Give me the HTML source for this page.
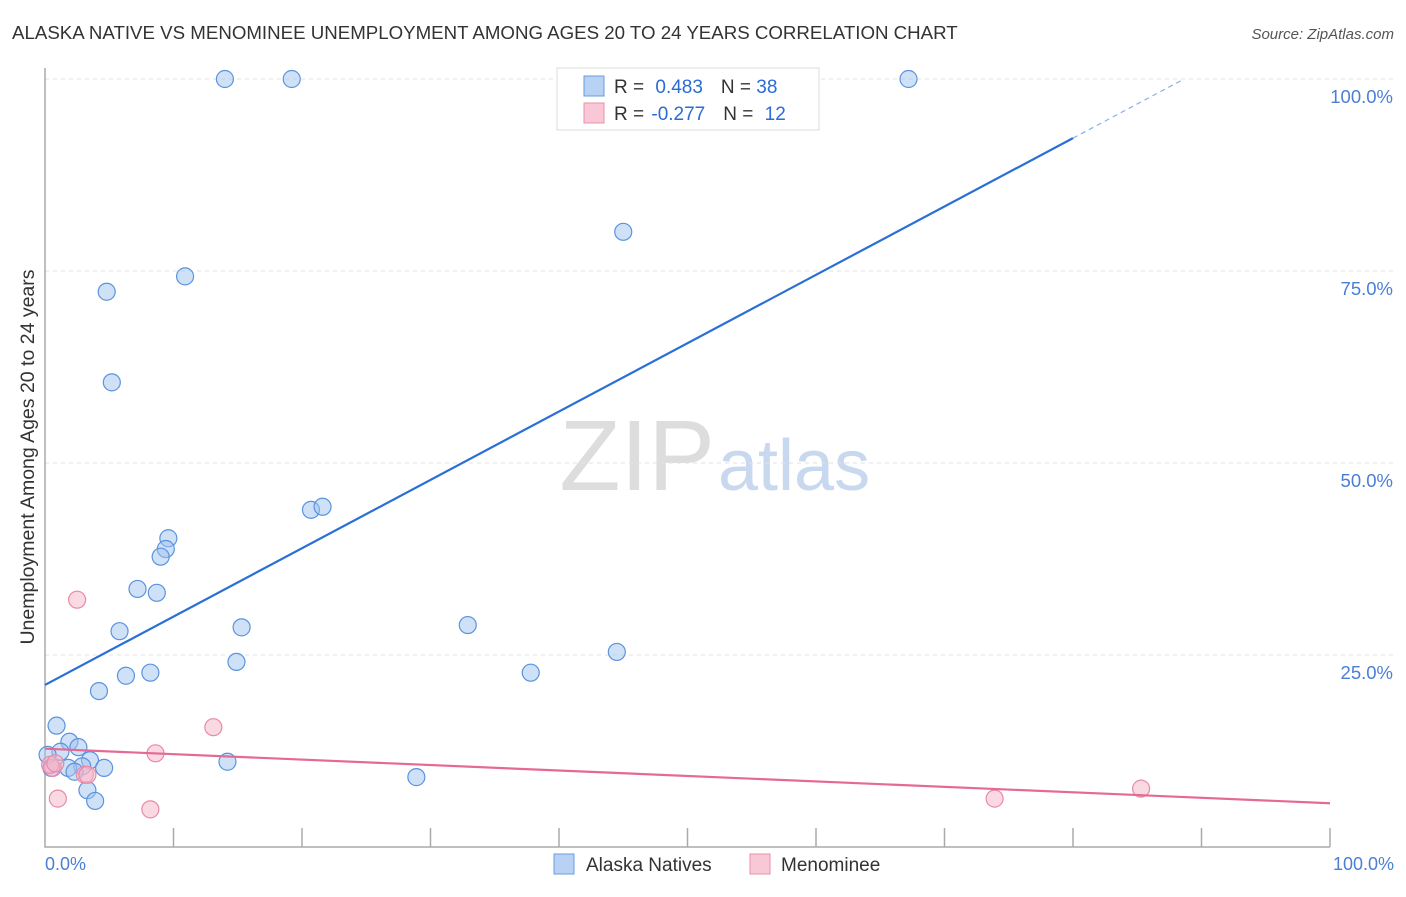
<!DOCTYPE html>
<html><head><meta charset="utf-8"><style>
body{margin:0;background:#fff;font-family:"Liberation Sans",sans-serif;}
svg text{font-family:"Liberation Sans",sans-serif;}
</style></head><body>
<svg width="1406" height="892">
<text x="12" y="39" font-size="18.7" fill="#333">ALASKA NATIVE VS MENOMINEE UNEMPLOYMENT AMONG AGES 20 TO 24 YEARS CORRELATION CHART</text>
<text x="1394" y="39" font-size="15" fill="#555" font-style="italic" text-anchor="end">Source: ZipAtlas.com</text>
<text x="715" y="490" font-size="100" fill="#ddd" text-anchor="end" font-family="Liberation Serif">ZIP</text>
<text x="718" y="490" font-size="72" fill="#c8d8ee">atlas</text>
<g id="grid"></g>
<g id="axes"></g>
<g id="marks"></g>
<text transform="translate(34,457) rotate(-90)" font-size="19.5" fill="#333" text-anchor="middle">Unemployment Among Ages 20 to 24 years</text>
<text x="45" y="870" font-size="18" fill="#4a7fd4">0.0%</text>
<text x="1394" y="870" font-size="18" fill="#4a7fd4" text-anchor="end">100.0%</text>
<g>
<rect x="557" y="68" width="262" height="62" fill="#fff" stroke="#ddd"/>
<rect x="584" y="76" width="20" height="20" fill="#b8d2f4" stroke="#6a9ae0"/>
<rect x="584" y="103" width="20" height="20" fill="#f9c8d6" stroke="#e890aa"/>
<text x="614" y="93" font-size="19" fill="#333">R = <tspan fill="#2a6bd4" dx="6">0.483</tspan><tspan dx="18" fill="#333">N = </tspan><tspan fill="#2a6bd4">38</tspan></text>
<text x="614" y="120" font-size="19" fill="#333">R = <tspan fill="#2a6bd4" dx="2">-0.277</tspan><tspan dx="18" fill="#333">N = </tspan><tspan fill="#2a6bd4" dx="6">12</tspan></text>
</g>
<g>
<rect x="554" y="854" width="20" height="20" fill="#b8d2f4" stroke="#6a9ae0"/>
<text x="586" y="871" font-size="19" fill="#333">Alaska Natives</text>
<rect x="750" y="854" width="20" height="20" fill="#f9c8d6" stroke="#e890aa"/>
<text x="781" y="871" font-size="19" fill="#333">Menominee</text>
</g>
</svg>
<script>
const blueX=[14.0,19.2,67.2,45.0,10.9,4.8,5.2,20.7,21.6,9.6,9.4,9.0,7.2,8.7,5.8,15.3,32.9,44.5,6.3,8.2,37.8,14.9,4.2,0.9,1.9,2.6,1.2,0.2,3.5,2.9,4.6,1.8,0.5,2.3,14.2,3.3,3.9,28.9];
const blueY=[100,100,100,80.1,74.3,72.3,60.5,43.9,44.3,40.2,38.8,37.8,33.6,33.1,28.1,28.6,28.9,25.4,22.3,22.7,22.7,24.1,20.3,15.8,13.7,13.0,12.4,12.0,11.3,10.5,10.3,10.3,10.3,9.8,11.1,7.4,6.0,9.1];
const pinkX=[2.5,13.1,8.6,0.6,0.4,3.1,1.0,8.2,73.9,85.3,3.3,0.8];
const pinkY=[32.2,15.6,12.2,10.3,10.7,9.4,6.3,4.9,6.3,7.6,9.4,10.9];
const blueTrend=[21.1,92.3]; // values at x=0 and x=80
const pinkTrend=[12.8,5.7]; // values at x=0 and x=100
const yTicks=[25,50,75,100];
const xTicks=[10,20,30,40,50,60,70,80,90,100];
const X=v=>45+v*12.85, Y=v=>847-v*7.68;
const NS='http://www.w3.org/2000/svg';
function mk(tag,attrs,parent){const e=document.createElementNS(NS,tag);for(const k in attrs)e.setAttribute(k,attrs[k]);document.getElementById(parent).appendChild(e);return e;}
yTicks.forEach(t=>{
 const l=mk('line',{x1:45,x2:1394,y1:Y(t),y2:Y(t),stroke:'#e2e2e2','stroke-dasharray':'4,4'},'grid');
 
 
 const tx=mk('text',{x:1393,y:Y(t)+24,'font-size':18.5,fill:'#4a7fd4','text-anchor':'end'},'grid');
 tx.textContent=t.toFixed(1)+'%';
 
 
});
const ax=mk('path',{d:'M45,68V847H1330',fill:'none',stroke:'#aaa','stroke-width':1.5},'axes');


xTicks.forEach(t=>{
 const l=mk('line',{x1:X(t),x2:X(t),y1:828,y2:847,stroke:'#aaa','stroke-width':1.5},'axes');
 
 
});
blueX.forEach((x,i)=>{
 const c=mk('circle',{cx:X(x),cy:Y(blueY[i]),r:8.5,fill:'rgba(160,195,240,0.5)',stroke:'#5b93dd','stroke-width':1.2},'marks');
 
 
});
pinkX.forEach((x,i)=>{
 const c=mk('circle',{cx:X(x),cy:Y(pinkY[i]),r:8.5,fill:'rgba(245,180,200,0.5)',stroke:'#e88aa8','stroke-width':1.2},'marks');
 
 
});
const slope=(blueTrend[1]-blueTrend[0])/80;
const bl=mk('line',{x1:X(0),y1:Y(blueTrend[0]),x2:X(80),y2:Y(blueTrend[1]),stroke:'#2a6fd6','stroke-width':2.2},'marks');


const xEnd=(100-blueTrend[0])/slope;
const bd=mk('line',{x1:X(80),y1:Y(blueTrend[1]),x2:X(xEnd),y2:Y(100),stroke:'#8ab0e6','stroke-width':1.2,'stroke-dasharray':'5,4'},'marks');


const pl=mk('line',{x1:X(0),y1:Y(pinkTrend[0]),x2:X(100),y2:Y(pinkTrend[1]),stroke:'#e46a95','stroke-width':2.2},'marks');


</script>
</body></html>
